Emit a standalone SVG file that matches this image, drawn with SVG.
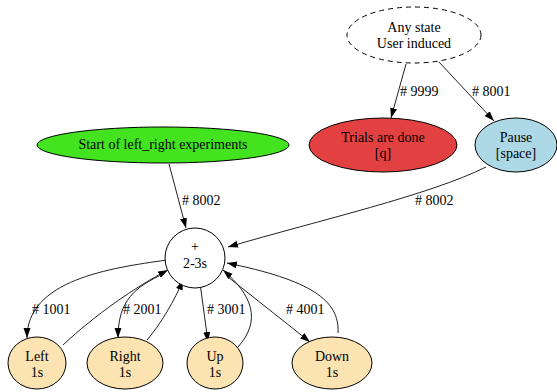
<svg xmlns="http://www.w3.org/2000/svg" width="557" height="392" viewBox="0 0 557 392" font-family="Liberation Serif, Times New Roman, serif">
<style>
text{font-family:'Liberation Serif','Times New Roman','DejaVu Serif',serif;font-size:14px;fill:#000}
.n{stroke:#000;stroke-width:1}
.e{fill:none;stroke:#222;stroke-width:1;marker-end:url(#ah)}
.c{text-anchor:middle}
</style>
<defs>
<marker id="ah" markerUnits="userSpaceOnUse" markerWidth="11" markerHeight="8" refX="10" refY="3.5" orient="auto">
<path d="M0,0 L10,3.5 L0,7 z" fill="#000"/>
</marker>
</defs>
<rect width="557" height="392" fill="#fff"/>
<g id="connectors">
<path class="e" d="M406,64 L391,118"/>
<path class="e" d="M439,62 L494,121"/>
<path class="e" d="M169,164 L186,228"/>
<path class="e" d="M486,167 C430,195 320,220 228,247"/>
<path class="e" d="M167,260 C110,268 27,280 27,338"/>
<path class="e" d="M63,345 C95,315 135,287 168,270"/>
<path class="e" d="M165,273 C135,287 118,300 118,338"/>
<path class="e" d="M147,340 C160,325 175,300 183,280"/>
<path class="e" d="M200,283 L208,342"/>
<path class="e" d="M238,347 C262,320 252,295 223,270"/>
<path class="e" d="M228,277 L310,342"/>
<path class="e" d="M338,333 C340,300 310,280 227,263"/>
<text x="400" y="96"># 9999</text>
<text x="472" y="96"># 8001</text>
<text x="182" y="205"># 8002</text>
<text x="415" y="205"># 8002</text>
<text x="32" y="314"># 1001</text>
<text x="123" y="314"># 2001</text>
<text x="207" y="314"># 3001</text>
<text x="286" y="314"># 4001</text>
</g>
<g id="any_state">
<ellipse class="n" cx="414" cy="35" rx="67" ry="28" fill="#fff" stroke-dasharray="5,4"/>
<text class="c" x="414" y="32">Any state</text>
<text class="c" x="414" y="48">User induced</text>
</g>
<g id="trials_done">
<ellipse class="n" cx="383" cy="145" rx="74" ry="27" fill="#e34141"/>
<text class="c" x="383" y="142">Trials are done</text>
<text class="c" x="383" y="158">[q]</text>
</g>
<g id="pause">
<ellipse class="n" cx="516" cy="145" rx="41" ry="27" fill="#add8e6"/>
<text class="c" x="516" y="142">Pause</text>
<text class="c" x="516" y="158">[space]</text>
</g>
<g id="start">
<ellipse class="n" cx="163" cy="145" rx="126" ry="18" fill="#44e31f"/>
<text class="c" x="163" y="149">Start of left_right experiments</text>
</g>
<g id="center">
<circle class="n" cx="195" cy="258" r="30" fill="#fff"/>
<text class="c" x="195" y="251">+</text>
<text class="c" x="195" y="268">2-3s</text>
</g>
<g id="left">
<ellipse class="n" cx="37" cy="363" rx="29" ry="26" fill="#fbe3b2"/>
<text class="c" x="37" y="361">Left</text>
<text class="c" x="37" y="377">1s</text>
</g>
<g id="right">
<ellipse class="n" cx="125" cy="363" rx="38" ry="26" fill="#fbe3b2"/>
<text class="c" x="125" y="361">Right</text>
<text class="c" x="125" y="377">1s</text>
</g>
<g id="up">
<ellipse class="n" cx="215" cy="363" rx="28" ry="26" fill="#fbe3b2"/>
<text class="c" x="215" y="361">Up</text>
<text class="c" x="215" y="377">1s</text>
</g>
<g id="down">
<ellipse class="n" cx="332" cy="363" rx="40" ry="26" fill="#fbe3b2"/>
<text class="c" x="332" y="361">Down</text>
<text class="c" x="332" y="377">1s</text>
</g>
</svg>
